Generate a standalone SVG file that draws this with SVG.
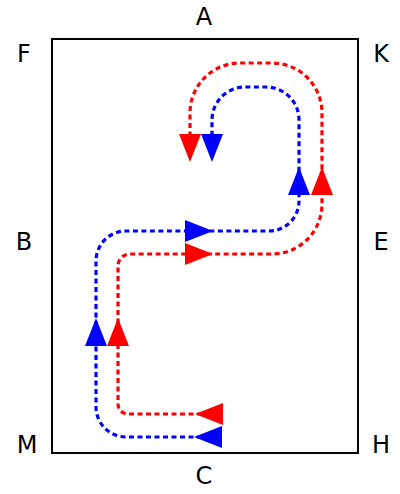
<svg xmlns="http://www.w3.org/2000/svg" xmlns:xlink="http://www.w3.org/1999/xlink" width="400" height="494" viewBox="0 0 400 494">
<style>
.lbl{font-family:"DejaVu Sans",sans-serif;font-size:24px;fill:#000;text-anchor:middle}
.frame{fill:none;stroke:#000;stroke-width:2}
.flow{fill:none;stroke-width:3.2;stroke-dasharray:5 3.5}
.red{stroke:#ff0000}
.blue{stroke:#0000ff}
.ar{fill:#ff0000}
.ab{fill:#0000ff}
</style>
<defs>
<path id="arrow" d="M0,0 L-28,-11 L-28,11 Z"/>
</defs>
<rect width="400" height="494" fill="#fff"/>
<g id="frame"><rect class="frame" x="52" y="39" width="306" height="414"/></g>
<g id="labels">
<text id="A" class="lbl" x="204" y="25">A</text>
<text id="F" class="lbl" x="24" y="62">F</text>
<text id="K" class="lbl" x="381" y="62">K</text>
<text id="B" class="lbl" x="24" y="250">B</text>
<text id="E" class="lbl" x="381" y="250">E</text>
<text id="M" class="lbl" x="27" y="453">M</text>
<text id="H" class="lbl" x="381" y="453">H</text>
<text id="C" class="lbl" x="204" y="484">C</text>
</g>
<g id="connectors">
<path class="flow red" d="M219,414 H128 A10,10 0 0 1 118,404 V266 A12,12 0 0 1 130,254 H272 A50,50 0 0 0 322,204 V113 A50,50 0 0 0 272,63 H240 A50,50 0 0 0 190,113 V140"/>
<path class="flow blue" d="M219,437 H126 A30,30 0 0 1 96,407 V261 A30,30 0 0 1 126,231 H269 A30,30 0 0 0 299,201 V120 A33,33 0 0 0 266,87 H245 A33,33 0 0 0 212,120 V140"/>
<use xlink:href="#arrow" class="ar" transform="translate(190,162) rotate(90)"/>
<use xlink:href="#arrow" class="ab" transform="translate(212,162) rotate(90)"/>
<use xlink:href="#arrow" class="ab" transform="translate(299,167) rotate(-90)"/>
<use xlink:href="#arrow" class="ar" transform="translate(322,167) rotate(-90)"/>
<use xlink:href="#arrow" class="ab" transform="translate(213,231)"/>
<use xlink:href="#arrow" class="ar" transform="translate(213,254)"/>
<use xlink:href="#arrow" class="ab" transform="translate(96,318) rotate(-90)"/>
<use xlink:href="#arrow" class="ar" transform="translate(118,318) rotate(-90)"/>
<use xlink:href="#arrow" class="ar" transform="translate(195,414) rotate(180)"/>
<use xlink:href="#arrow" class="ab" transform="translate(194,437) rotate(180)"/>
</g>
</svg>
